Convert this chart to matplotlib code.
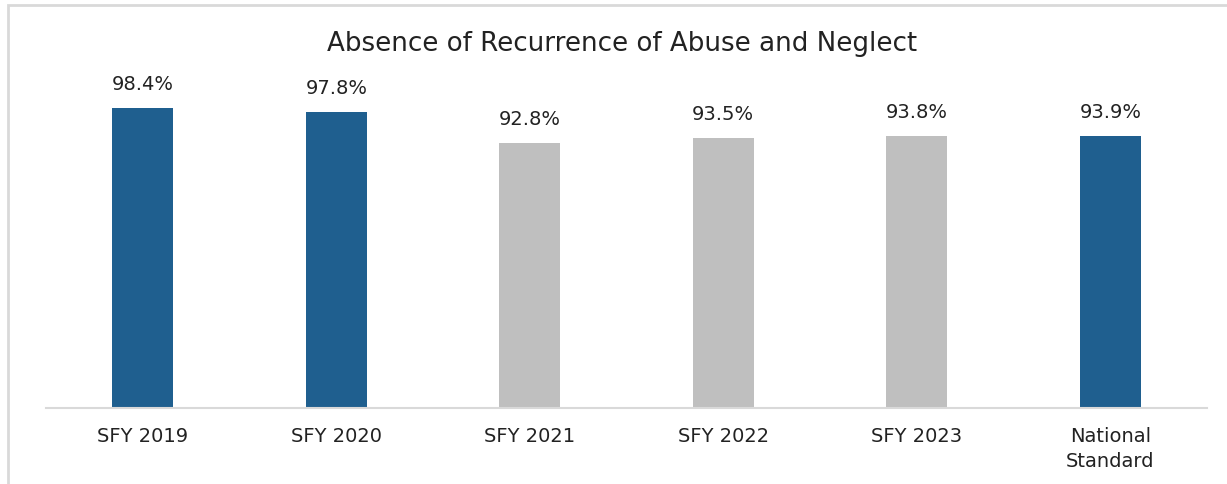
import matplotlib.pyplot as plt
import matplotlib.patches as mpatches
import numpy as np

categories = ["SFY 2019", "SFY 2020", "SFY 2021", "SFY 2022", "SFY 2023", "National\nStandard"]
values = [98.4, 97.8, 92.8, 93.5, 93.8, 93.9]
bar_colors = ["#1F5F8F", "#1F5F8F", "#BFBFBF", "#BFBFBF", "#BFBFBF", "#1F5F8F"]
title = "Absence of Recurrence of Abuse and Neglect"

plt.rcParams['font.family'] = ['DejaVu Sans']

fig = plt.figure(figsize=(12.27, 4.84), dpi=100)
ax = fig.add_axes([0.0375, 0.1576, 0.9462, 0.64])

# outer chart border (cut off at right and bottom as in the source)
fig.patches.append(mpatches.Rectangle((8 / 1227, -0.05), 1.1, 1 - 5 / 484 + 0.05,
                                      transform=fig.transFigure, fill=False,
                                      edgecolor="#D9D9D9", linewidth=2))

x = np.arange(len(categories))
bars = ax.bar(x, values, width=0.315, color=bar_colors)

for xi, v in zip(x, values):
    ax.annotate(f"{v}%", (xi, v), xytext=(0, 10), textcoords="offset points",
                ha="center", va="bottom", fontsize=14, color="#222222")

ax.set_xlim(-0.5, len(categories) - 0.5)
ax.set_ylim(50, 100)
ax.set_xticks(x)
ax.set_xticklabels(categories, fontsize=14, color="#222222", linespacing=1.4)
ax.tick_params(axis="x", length=0, pad=14)
ax.set_yticks([])
for s in ["top", "right", "left"]:
    ax.spines[s].set_visible(False)
ax.spines["bottom"].set_color("#D9D9D9")
ax.spines["bottom"].set_linewidth(1.5)

fig.text(0.507, 1 - 44 / 484, title, ha="center", va="center", fontsize=18.8, color="#222222")

fig.savefig("out.png", dpi=100)
